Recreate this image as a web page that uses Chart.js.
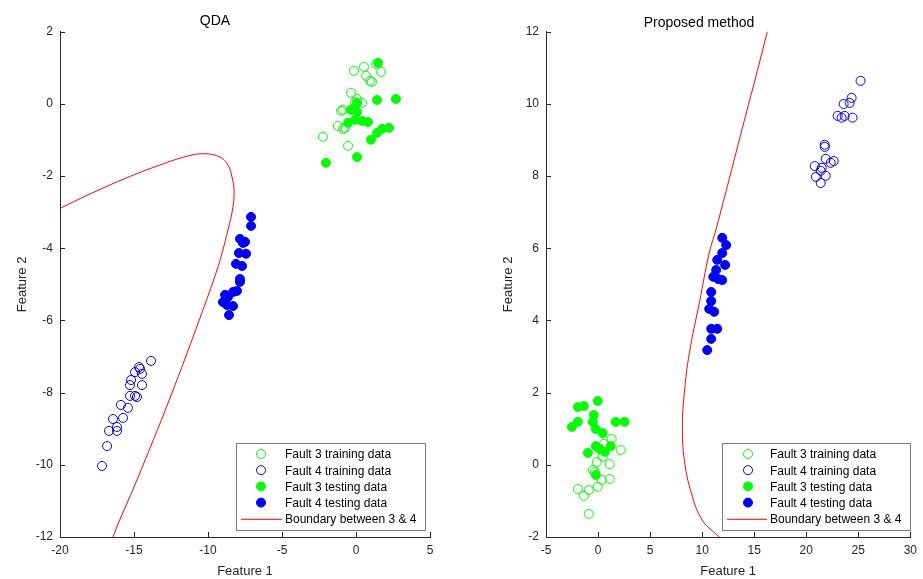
<!DOCTYPE html>
<html>
<head>
<meta charset="utf-8">
<script src="https://cdn.jsdelivr.net/npm/chart.js@4.4.1/dist/chart.umd.min.js"></script>
<style>
  body { margin: 0; background: #fff; }
  #left { position: absolute; left: 0; top: 0; }
  #right { position: absolute; left: 461px; top: 0; }
</style>
</head>
<body>
<canvas id="left" width="461" height="579"></canvas>
<canvas id="right" width="462" height="579"></canvas>
<script>
// ---- QDA panel data [feature1, feature2]
const qdaF3Train = [[-0.14,0.92],[0.54,1.03],[1.35,1.11],[1.69,0.89],[0.68,0.78],[0.95,0.64],[1.08,0.61],
  [-0.34,0.31],[0.07,0.14],[0.41,0.03],[-0.07,0.06],[-1.01,-0.19],[-0.88,-0.16],[-1.22,-0.61],
  [-0.88,-0.69],[-0.74,-0.66],[-2.23,-0.91],[-0.54,-1.16]];
const qdaF4Train = [[-13.85,-7.12],[-14.66,-7.29],[-14.59,-7.34],[-14.93,-7.43],[-14.46,-7.48],[-15.20,-7.65],
  [-15.27,-7.79],[-14.46,-7.79],[-15.27,-8.09],[-14.93,-8.09],[-14.80,-8.12],[-15.88,-8.34],[-15.41,-8.42],
  [-16.42,-8.73],[-15.74,-8.70],[-16.15,-8.95],[-16.69,-9.06],[-16.15,-9.06],[-16.82,-9.48],[-17.16,-10.03]];
const qdaF3Test = [[1.49,1.14],[1.42,0.11],[2.70,0.14],[0.07,0.03],[-0.34,-0.16],[0.07,-0.22],[-0.54,-0.52],
  [-0.07,-0.44],[0.41,-0.47],[0.81,-0.50],[1.76,-0.69],[2.23,-0.66],[1.42,-0.80],[1.01,-0.99],
  [0.07,-1.47],[-2.03,-1.63]];
const qdaF4Test = [[-7.09,-3.13],[-7.09,-3.38],[-7.84,-3.74],[-7.50,-3.82],[-7.64,-3.85],[-7.91,-4.13],[-7.43,-4.15],
  [-8.11,-4.43],[-7.70,-4.49],[-7.84,-4.85],[-7.84,-4.93],[-8.04,-5.18],[-8.31,-5.21],[-8.85,-5.29],
  [-8.65,-5.35],[-8.99,-5.49],[-8.72,-5.57],[-8.31,-5.60],[-8.58,-5.85]];
const qdaBoundary = [[-20.5,-3.0],[-19.93,-2.88],[-18.11,-2.52],[-15.81,-2.10],[-13.58,-1.74],[-11.35,-1.44],[-10.20,-1.38],
  [-9.19,-1.47],[-8.65,-1.69],[-8.38,-2.02],[-8.24,-2.38],[-8.31,-2.85],[-8.65,-3.49],[-9.05,-4.13],
  [-9.39,-4.60],[-10.54,-5.93],[-12.57,-8.15],[-14.80,-10.42],[-16.42,-12.0],[-16.7,-12.5]];

// ---- Proposed method panel data
const pmF3Train = [[1.31,0.72],[0.55,0.58],[2.17,0.41],[0.45,0.22],[-0.12,0.08],[1.12,0.02],[-0.51,-0.14],
  [-0.31,-0.20],[0.36,-0.42],[1.12,-0.39],[-0.03,-0.61],[-1.94,-0.67],[-0.89,-0.70],[-1.37,-0.86],[-0.89,-1.36]];
const pmF4Train = [[25.22,10.64],[24.36,10.17],[24.17,10.03],[23.59,10.00],[23.02,9.67],[23.69,9.67],[23.40,9.62],
  [24.45,9.62],[21.78,8.87],[21.78,8.81],[21.87,8.48],[22.64,8.42],[22.35,8.37],[20.82,8.28],[21.49,8.23],
  [21.39,8.15],[20.92,7.98],[21.87,8.01],[21.39,7.81]];
const pmF3Test = [[-0.03,1.77],[-1.94,1.60],[-1.37,1.63],[-0.41,1.38],[-2.51,1.05],[-1.94,1.19],[-0.51,1.19],
  [-0.22,0.99],[0.45,0.88],[1.69,1.19],[2.55,1.19],[-0.22,0.52],[0.16,0.44],[0.64,0.36],[1.22,0.52],
  [-0.98,0.33],[-0.22,-0.28]];
const pmF4Test = [[11.93,6.29],[12.31,6.09],[11.93,5.87],[11.45,5.68],[12.21,5.54],[11.35,5.40],[11.07,5.21],
  [11.54,5.15],[11.93,5.12],[10.87,4.79],[10.87,4.54],[10.68,4.32],[11.16,4.24],[10.87,3.77],[11.45,3.77],
  [10.87,3.49],[10.49,3.18]];
const pmBoundary = [[16.4,12.3],[16.23,11.97],[13.79,9.25],[11.35,6.54],[10.68,5.87],[9.73,4.49],[8.77,3.10],
  [8.29,1.99],[8.10,1.05],[8.29,0.13],[8.96,-0.78],[10.01,-1.53],[11.64,-2.0],[12.2,-2.15]];

const seriesNames = ['Fault 3 training data', 'Fault 4 training data', 'Fault 3 testing data',
  'Fault 4 testing data', 'Boundary between 3 & 4'];

const GREEN = '#00ff00', BLUE = '#0000ff', RED = '#ff0000', AXIS = '#262626';
const FONT = '"Liberation Sans", Arial, sans-serif';

const toXY = arr => arr.map(p => ({ x: p[0], y: p[1] }));

function datasets(f3tr, f4tr, f3te, f4te, bound) {
  return [
    { label: seriesNames[0], data: toXY(f3tr), pointStyle: 'circle', pointRadius: 4.5,
      backgroundColor: 'rgba(0,0,0,0)', borderColor: GREEN, borderWidth: 1 },
    { label: seriesNames[1], data: toXY(f4tr), pointStyle: 'circle', pointRadius: 4.5,
      backgroundColor: 'rgba(0,0,0,0)', borderColor: BLUE, borderWidth: 1 },
    { label: seriesNames[2], data: toXY(f3te), pointRadius: 4.5,
      backgroundColor: GREEN, borderColor: GREEN, borderWidth: 1 },
    { label: seriesNames[3], data: toXY(f4te), pointRadius: 4.5,
      backgroundColor: BLUE, borderColor: BLUE, borderWidth: 1 },
    { label: seriesNames[4], data: toXY(bound), showLine: true, pointRadius: 0, borderColor: RED,
      borderWidth: 1, tension: 0.4, fill: false }
  ];
}

// small ticks pointing into the plot, like MATLAB
const inwardTicks = {
  id: 'inwardTicks',
  afterDatasetsDraw(chart) {
    const { ctx, chartArea: a, scales: { x, y } } = chart;
    ctx.save();
    ctx.strokeStyle = AXIS;
    ctx.lineWidth = 1;
    ctx.beginPath();
    x.ticks.forEach(t => {
      const px = Math.round(x.getPixelForValue(t.value)) + 0.5;
      ctx.moveTo(px, a.bottom); ctx.lineTo(px, a.bottom - 5);
    });
    y.ticks.forEach(t => {
      const py = Math.round(y.getPixelForValue(t.value)) + 0.5;
      ctx.moveTo(a.left, py); ctx.lineTo(a.left + 5, py);
    });
    ctx.stroke();
    ctx.restore();
  }
};

// legend box in the lower right corner
const boxLegend = {
  id: 'boxLegend',
  afterDraw(chart, args, opts) {
    const { ctx } = chart;
    const b = opts.box;
    ctx.save();
    ctx.fillStyle = '#fff';
    ctx.fillRect(b.x, b.y, b.w, b.h);
    ctx.strokeStyle = '#7a7a7a';
    ctx.lineWidth = 1;
    ctx.strokeRect(b.x + 0.5, b.y + 0.5, b.w, b.h);
    ctx.font = '12px ' + FONT;
    ctx.textBaseline = 'middle';
    chart.data.datasets.forEach((ds, i) => {
      const cy = b.y + 11 + i * 16.2;
      if (ds.showLine) {
        ctx.strokeStyle = ds.borderColor;
        ctx.beginPath();
        ctx.moveTo(b.lineX0, cy + 0.5); ctx.lineTo(b.lineX1, cy + 0.5);
        ctx.stroke();
      } else {
        ctx.beginPath();
        ctx.arc(b.markX, cy, 4.5, 0, Math.PI * 2);
        if (ds.backgroundColor !== 'rgba(0,0,0,0)') {
          ctx.fillStyle = ds.backgroundColor;
          ctx.fill();
        }
        ctx.strokeStyle = ds.borderColor;
        ctx.stroke();
      }
      ctx.fillStyle = '#000';
      ctx.fillText(ds.label, b.textX, cy + 1);
    });
    ctx.restore();
  }
};

function makeChart(id, title, titlePad, xMin, xMax, yMin, yMax, padLeft, padRight, sets, box) {
  return new Chart(document.getElementById(id), {
    type: 'scatter',
    data: { datasets: sets },
    plugins: [inwardTicks, boxLegend],
    options: {
      responsive: false,
      animation: false,
      layout: { padding: { left: padLeft, right: padRight, top: 0, bottom: 0 } },
      plugins: {
        legend: { display: false },
        tooltip: { enabled: false },
        title: { display: true, text: title, color: '#000', padding: titlePad,
          font: { family: FONT, size: 14, weight: 'normal' } },
        boxLegend: { box: box }
      },
      scales: {
        x: {
          type: 'linear', min: xMin, max: xMax,
          grid: { display: false, drawTicks: false },
          border: { display: true, color: AXIS, width: 1 },
          ticks: { stepSize: 5, autoSkip: false, maxRotation: 0, padding: 6, color: AXIS,
            font: { family: FONT, size: 12 } },
          title: { display: true, text: 'Feature 1', color: AXIS, padding: { top: 0, bottom: 0 },
            font: { family: FONT, size: 13 } },
          afterFit: s => { s.height = 42; }
        },
        y: {
          type: 'linear', min: yMin, max: yMax,
          grid: { display: false, drawTicks: false },
          border: { display: true, color: AXIS, width: 1 },
          ticks: { stepSize: 2, autoSkip: false, padding: 7, color: AXIS,
            font: { family: FONT, size: 12 } },
          title: { display: true, text: 'Feature 2', color: AXIS, padding: { top: 15, bottom: 0 },
            font: { family: FONT, size: 13 } },
          afterFit: s => { s.width = 60; }
        }
      }
    }
  });
}

makeChart('left', 'QDA', { top: 13, bottom: 2 }, -20, 5, -12, 2, 0, 31,
  datasets(qdaF3Train, qdaF4Train, qdaF3Test, qdaF4Test, qdaBoundary),
  { x: 236, y: 443, w: 189, h: 87, markX: 261, lineX0: 241, lineX1: 282, textX: 285 });

makeChart('right', 'Proposed method', { top: 15, bottom: 0 }, -5, 30, -2, 12, 25, 11,
  datasets(pmF3Train, pmF4Train, pmF3Test, pmF4Test, pmBoundary),
  { x: 261, y: 443, w: 188, h: 87, markX: 287, lineX0: 266, lineX1: 306, textX: 309 });
</script>
</body>
</html>
